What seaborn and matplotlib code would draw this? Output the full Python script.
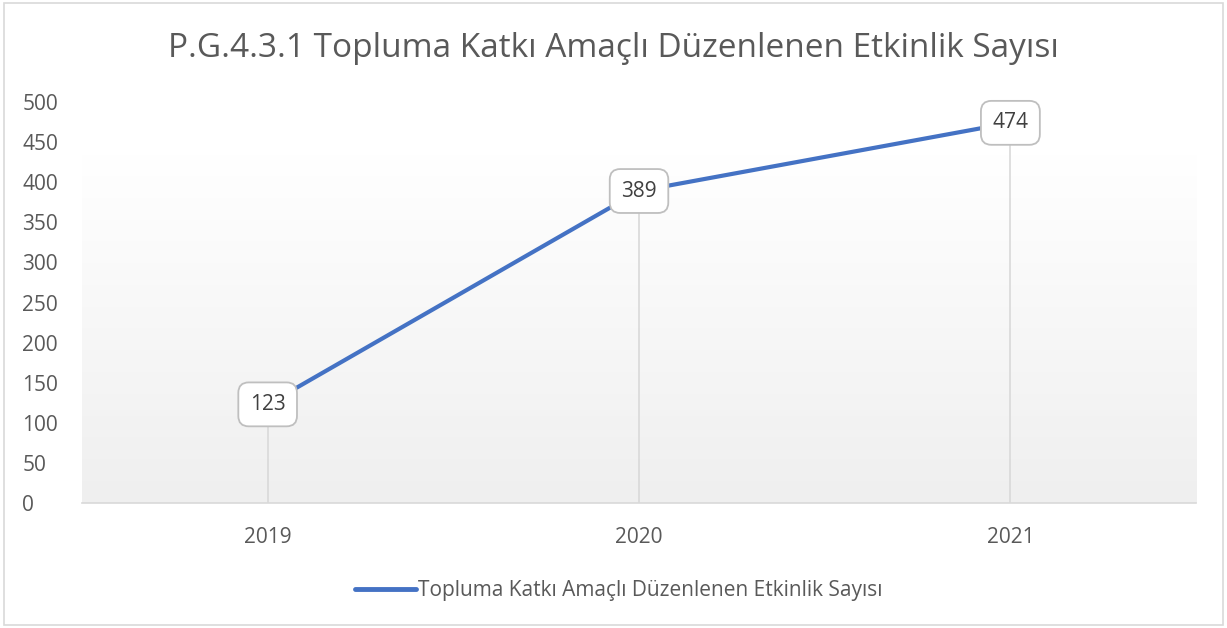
import numpy as np
import pandas as pd
import matplotlib
matplotlib.use('Agg')
import matplotlib.pyplot as plt
import seaborn as sns
from matplotlib.patches import Rectangle

years = ['2019', '2020', '2021']
counts = [123, 389, 474]
series_name = 'Topluma Katkı Amaçlı Düzenlenen Etkinlik Sayısı'
title = 'P.G.4.3.1 Topluma Katkı Amaçlı Düzenlenen Etkinlik Sayısı'

df = pd.DataFrame({'year': years, 'count': counts, 'pos': range(len(years))})

sns.set_style('white')
plt.rcParams['font.family'] = ['Open Sans', 'DejaVu Sans']
text_color = '#595959'

fig = plt.figure(figsize=(12.27, 6.28), dpi=100)
ax = fig.add_axes([0.0668, 0.199, 0.908, 0.6386])

# soft gradient background (white at top -> light gray at bottom)
grad = np.linspace(0.0, 1.0, 256).reshape(-1, 1)
ax.imshow(grad, extent=[-0.5, 2.5, 0, 434], aspect='auto', origin='upper',
          cmap=matplotlib.colors.LinearSegmentedColormap.from_list('g', ['#ffffff', '#efefef']),
          vmin=0, vmax=1, zorder=0)

# drop lines
ax.vlines(df['pos'], 0, df['count'], color='#d9d9d9', linewidth=1.2, zorder=1)

sns.lineplot(data=df, x='pos', y='count', ax=ax, color='#4472C4', linewidth=3,
             label=series_name, zorder=3)

for x, y in zip(df['pos'], df['count']):
    ax.text(x, y, str(y), ha='center', va='center', fontsize=15, color='#404040', zorder=5,
            bbox=dict(boxstyle='round,pad=0.55,rounding_size=0.5', fc='white', ec='#bfbfbf', lw=1.3))

ax.set_xlim(-0.5, 2.5)
ax.set_ylim(0, 500)
ax.set_yticks(range(0, 501, 50))
ax.set_xticks(df['pos'])
ax.set_xticklabels(years)
ax.tick_params(axis='both', length=0, labelsize=15, labelcolor=text_color)
ax.tick_params(axis='x', pad=17)
ax.tick_params(axis='y', pad=43)
for lab in ax.get_yticklabels():
    lab.set_horizontalalignment('left')
ax.set_xlabel('')
ax.set_ylabel('')
for s in ['top', 'right', 'left']:
    ax.spines[s].set_visible(False)
ax.spines['bottom'].set_color('#d9d9d9')
ax.spines['bottom'].set_linewidth(1.2)

fig.text(0.5, 0.922, title, ha='center', va='center', fontsize=24, color=text_color)

leg = ax.legend(loc='center', bbox_to_anchor=(0.482, -0.218), frameon=False, fontsize=15,
                handlelength=2.9, handletextpad=0.1)
for t in leg.get_texts():
    t.set_color(text_color)
for h in leg.get_lines():
    h.set_linewidth(3.5)

fig.patches.append(Rectangle((0.003, 0.005), 0.994, 0.99, transform=fig.transFigure,
                             fill=False, ec='#d9d9d9', lw=1.2))

fig.savefig('out.png', dpi=100)
